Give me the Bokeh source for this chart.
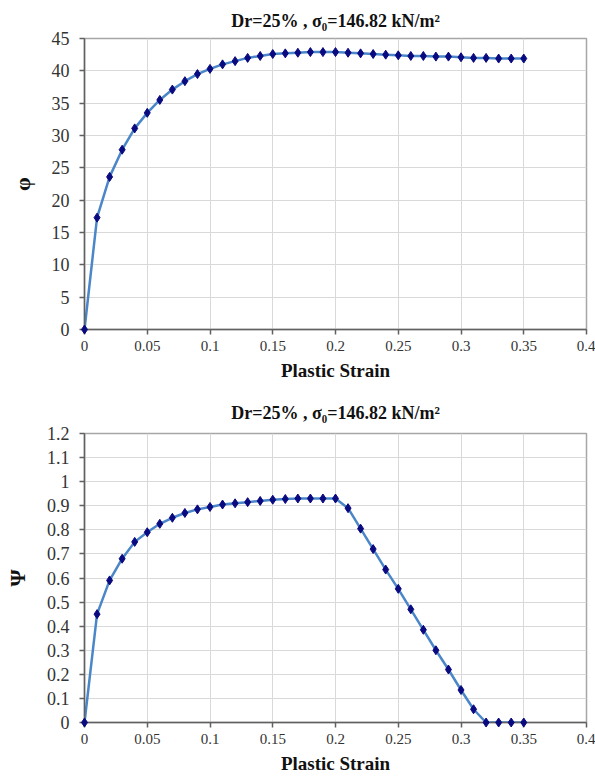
from bokeh.plotting import figure
from bokeh.layouts import column
from bokeh.models import Range1d, FixedTicker
from bokeh.embed import file_html
from bokeh.resources import INLINE

# ---- data ----
strain = [0.00, 0.01, 0.02, 0.03, 0.04, 0.05, 0.06, 0.07, 0.08, 0.09,
          0.10, 0.11, 0.12, 0.13, 0.14, 0.15, 0.16, 0.17, 0.18, 0.19,
          0.20, 0.21, 0.22, 0.23, 0.24, 0.25, 0.26, 0.27, 0.28, 0.29,
          0.30, 0.31, 0.32, 0.33, 0.34, 0.35]
phi = [0.0, 17.3, 23.6, 27.8, 31.1, 33.5, 35.5, 37.1, 38.4, 39.5,
       40.3, 41.0, 41.5, 42.0, 42.3, 42.6, 42.7, 42.8, 42.9, 42.9,
       42.9, 42.8, 42.7, 42.6, 42.5, 42.4, 42.3, 42.3, 42.2, 42.2,
       42.1, 42.0, 42.0, 41.9, 41.9, 41.9]
psi = [0.0, 0.45, 0.59, 0.68, 0.75, 0.79, 0.825, 0.85, 0.87, 0.885,
       0.895, 0.905, 0.91, 0.915, 0.92, 0.925, 0.928, 0.93, 0.93, 0.93,
       0.93, 0.89, 0.805, 0.72, 0.635, 0.555, 0.47, 0.385, 0.30, 0.22,
       0.135, 0.055, 0.0, 0.0, 0.0, 0.0]

x_ticks = [0, 0.05, 0.1, 0.15, 0.2, 0.25, 0.3, 0.35, 0.4]
x_tick_labels = ["0", "0.05", "0.1", "0.15", "0.2", "0.25", "0.3", "0.35", "0.4"]
phi_ticks = [0, 5, 10, 15, 20, 25, 30, 35, 40, 45]
psi_ticks = [0, 0.1, 0.2, 0.3, 0.4, 0.5, 0.6, 0.7, 0.8, 0.9, 1.0, 1.1, 1.2]
psi_tick_labels = ["0", "0.1", "0.2", "0.3", "0.4", "0.5", "0.6", "0.7",
                   "0.8", "0.9", "1", "1.1", "1.2"]

title_text = "Dr=25% , σ\u2080=146.82 kN/m\u00b2"
x_title = "Plastic Strain"

FONT = "'Liberation Serif', 'Times New Roman', serif"
LINE_COLOR = "#4a86c8"
MARK_COLOR = "#0a0a80"


def make_fig(y, ymax, yticks, ylabels, ylab, title_standoff, bottom_border):
    p = figure(width=595, height=390, output_backend="svg", toolbar_location=None,
               x_range=Range1d(0, 0.4), y_range=Range1d(0, ymax),
               min_border_left=84, min_border_right=9,
               min_border_top=2, min_border_bottom=bottom_border)
    p.title.text = title_text
    p.title.align = "center"
    p.title.text_font = FONT
    p.title.text_font_size = "18px"
    p.title.text_font_style = "bold"
    p.title.text_color = "#111111"
    p.title.standoff = title_standoff

    p.line(strain, y, line_color=LINE_COLOR, line_width=2.5)
    r = p.scatter(strain, y, marker="diamond", size=9, fill_color=MARK_COLOR,
                  line_color=MARK_COLOR)
    r.level = "overlay"

    p.xaxis.ticker = FixedTicker(ticks=x_ticks)
    p.xaxis.major_label_overrides = dict(zip(x_ticks, x_tick_labels))
    p.yaxis.ticker = FixedTicker(ticks=yticks)
    if ylabels is not None:
        p.yaxis.major_label_overrides = dict(zip(yticks, ylabels))

    for ax in (p.xaxis[0], p.yaxis[0]):
        ax.axis_line_color = "#606060"
        ax.axis_line_width = 1.5
        ax.major_tick_line_color = "#606060"
        ax.major_tick_line_width = 1.5
        ax.major_tick_in = 0
        ax.major_tick_out = 5
        ax.minor_tick_line_color = None
        ax.major_label_text_font = FONT
        ax.major_label_text_color = "#333333"
        ax.axis_label_text_font = FONT
        ax.axis_label_text_font_style = "bold"
        ax.axis_label_text_color = "#111111"

    p.xaxis.major_label_text_font_size = "15px"
    p.yaxis.major_label_text_font_size = "18px"
    p.xaxis.major_label_standoff = 6
    p.yaxis.major_label_standoff = 10
    p.xaxis.axis_label = x_title
    p.xaxis.axis_label_text_font_size = "19px"
    p.xaxis.axis_label_standoff = 6
    p.yaxis.axis_label = ylab
    p.yaxis.axis_label_text_font_size = "22px"
    p.yaxis.axis_label_standoff = 14

    p.xgrid.grid_line_color = "#d9d9d9"
    p.ygrid.grid_line_color = "#d9d9d9"
    p.outline_line_color = "#a6a6a6"
    p.outline_line_width = 1.5
    p.background_fill_color = "white"
    p.border_fill_color = "white"
    return p


p1 = make_fig(phi, 45, phi_ticks, None, "φ", 16, 61)
p2 = make_fig(psi, 1.2, psi_ticks, psi_tick_labels, "Ψ", 21, 58)

layout = column(p1, p2, spacing=0)
open("out.html", "w").write(file_html(layout, INLINE))
